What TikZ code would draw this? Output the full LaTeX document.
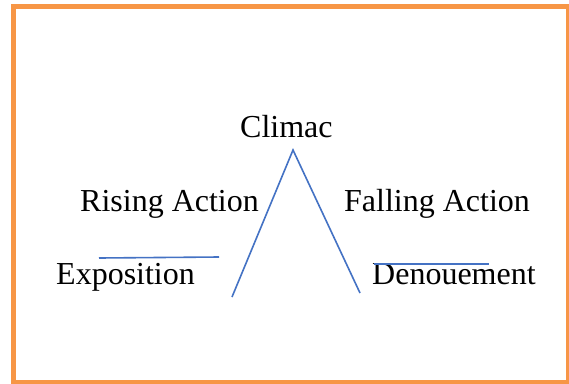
\documentclass[tikz,border=0pt]{standalone}
\usepackage{fontspec}
\setmainfont{Liberation Serif}
\definecolor{frameorange}{HTML}{F79646}
\definecolor{lineblue}{HTML}{4472C4}
\begin{document}
\begin{tikzpicture}[x=1pt,y=-1pt,
  lbl/.style={anchor=base west,inner sep=0pt,font=\fontsize{32}{37}\selectfont},
  plotline/.style={draw=lineblue,line width=1.6pt}]
\useasboundingbox (0,0) rectangle (569,383);
\fill[white] (0,0) rectangle (569,383);
\draw[frameorange,line width=5pt] (13.5,6) rectangle (568.5,382.5);
\node[lbl] (climax) at (240,137) {Climac};
\node[lbl] (rising) at (80,211) {Rising Action};
\node[lbl] (falling) at (344,211) {Falling Action};
\node[lbl] (expo) at (56,284) {Exposition};
\node[lbl] (denou) at (372,284) {Denouement};
\coordinate (apex) at (293,150);
\coordinate (lb) at (232,297);
\coordinate (rb) at (360,293);
\coordinate (e1) at (99,258);
\coordinate (e2) at (219,257);
\coordinate (d1) at (374,264);
\coordinate (d2) at (489,264);
\draw[plotline] (lb) -- (apex) -- (rb);
\draw[plotline] (e1) -- (e2);
\draw[plotline] (d1) -- (d2);
\end{tikzpicture}
\end{document}
